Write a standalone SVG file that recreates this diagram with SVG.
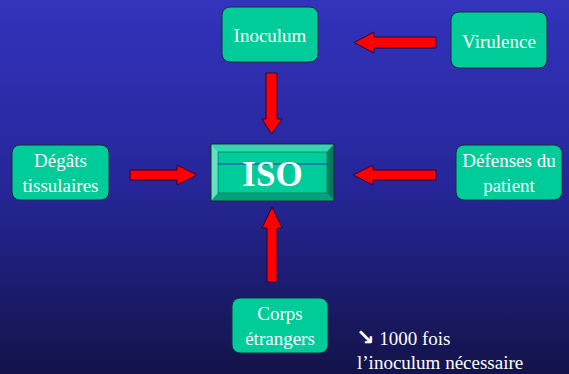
<svg xmlns="http://www.w3.org/2000/svg" width="569" height="374" viewBox="0 0 569 374">
<defs>
<linearGradient id="bg" x1="0" y1="0" x2="0" y2="1">
<stop offset="0" stop-color="#3333bd"/>
<stop offset="0.5" stop-color="#262699"/>
<stop offset="1" stop-color="#13134a"/>
</linearGradient>
<style>
.box{fill:#00cc99;stroke:#1a2a40;stroke-width:1}
.t{font-size:19px;fill:#ffffff;text-anchor:middle}
.n{font-size:19px;fill:#ffffff}
.arr{fill:#ff0000;stroke:#330033;stroke-width:1}
</style>
</defs>
<rect x="0" y="0" width="569" height="374" fill="url(#bg)"/>
<g id="connectors">
<polygon class="arr" points="436,37 374,37 374,32 354,42.5 374,53 374,48 436,48"/>
<polygon class="arr" points="266,73 277,73 277,119 282,119 271.5,134 262,119 266,119"/>
<polygon class="arr" points="130,170 177,170 177,165 197,175 177,185 177,180 130,180"/>
<polygon class="arr" points="436,170 373,170 373,165 353,175 373,185 373,180 436,180"/>
<polygon class="arr" points="267,282 277,282 277,228 282,228 272,207 262,228 267,228"/>
</g>
<g font-family="Liberation Serif, Times New Roman, serif">
<g id="inoculum">
<rect class="box" x="222" y="7" width="96" height="55" rx="8"/>
<text class="t" x="270" y="42">Inoculum</text>
</g>
<g id="virulence">
<rect class="box" x="451" y="12" width="96" height="56" rx="8"/>
<text class="t" x="499" y="48">Virulence</text>
</g>
<g id="degats">
<rect class="box" x="12" y="145" width="97" height="55" rx="8"/>
<text class="t" x="60.5" y="167">Dégâts</text>
<text class="t" x="60.5" y="192">tissulaires</text>
</g>
<g id="defenses">
<rect class="box" x="456" y="145" width="106" height="55" rx="8"/>
<text class="t" x="509" y="167">Défenses du</text>
<text class="t" x="509" y="192">patient</text>
</g>
<g id="corps">
<rect class="box" x="232" y="298" width="96" height="55" rx="8"/>
<text class="t" x="280" y="320">Corps</text>
<text class="t" x="280" y="345">étrangers</text>
</g>
<g id="iso">
<rect x="211" y="144" width="123" height="57" fill="#00cc99" stroke="#1a2a40" stroke-width="1"/>
<polygon points="211,144 334,144 327,152 218,152" fill="#33d6ad"/>
<polygon points="211,144 218,152 218,193 211,201" fill="#66e0c2"/>
<polygon points="334,144 334,201 327,193 327,152" fill="#007a5c"/>
<polygon points="211,201 218,193 327,193 334,201" fill="#00a37a"/>
<rect x="218" y="152" width="109" height="41" fill="#00cc99" stroke="#006650" stroke-width="0.6"/>
<line x1="218" y1="164" x2="327" y2="164" stroke="#3333cc" stroke-width="1.2"/>
<rect x="211" y="144" width="123" height="57" fill="none" stroke="#1a2a40" stroke-width="1"/>
<text x="272.5" y="186" font-size="35" font-weight="bold" fill="#ffffff" text-anchor="middle">ISO</text>
</g>
<g id="note">
<text class="n" x="356" y="345"><tspan font-family="DejaVu Sans, sans-serif" font-weight="bold" font-size="22">↘</tspan> 1000 fois</text>
<text class="n" x="357" y="369">l’inoculum nécessaire</text>
</g>
</g>
</svg>
